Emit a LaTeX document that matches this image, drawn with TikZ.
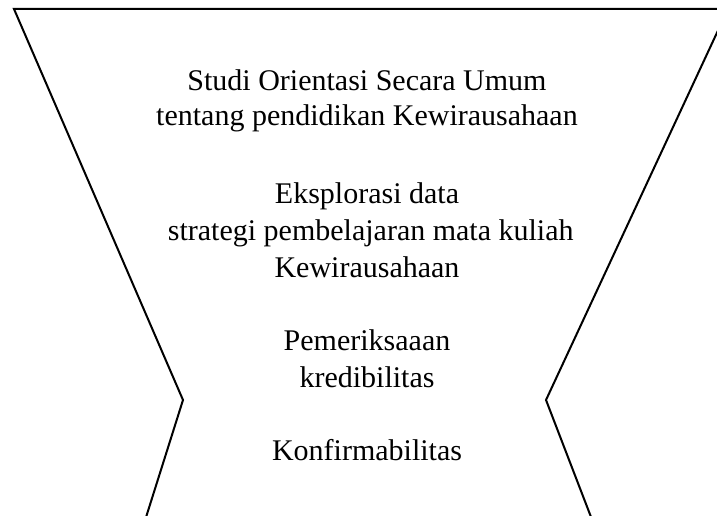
\documentclass[tikz,border=0pt]{standalone}
\usepackage{fontspec}
\setmainfont{Liberation Serif}
\begin{document}
\begin{tikzpicture}[x=1pt,y=-1pt,
  outline/.style={line width=2pt,line join=miter},
  txt/.style={anchor=base,inner sep=0pt,font=\fontsize{30}{36}\selectfont}]
\useasboundingbox (0,0) rectangle (717,516);
\begin{scope}
\clip (0,0) rectangle (717,516);
\coordinate (tl) at (14,9);
\coordinate (tr) at (728,9);
\coordinate (vl) at (183,400);
\coordinate (vr) at (546,400);
\coordinate (bl) at (142,530);
\coordinate (br) at (596,530);
\draw[outline] (bl) -- (vl) -- (tl) -- (tr) -- (vr) -- (br);
\end{scope}
\node[txt] (l1) at (367,91) {Studi Orientasi Secara Umum};
\node[txt] (l2) at (367,126) {tentang pendidikan Kewirausahaan};
\node[txt] (l3) at (367,203) {Eksplorasi data};
\node[txt] (l4) at (367,240) {\ strategi pembelajaran mata kuliah};
\node[txt] (l5) at (367,277) {Kewirausahaan};
\node[txt] (l6) at (367,350) {Pemeriksaaan};
\node[txt] (l7) at (367,387) {kredibilitas};
\node[txt] (l8) at (367,460) {Konfirmabilitas};
\end{tikzpicture}
\end{document}
